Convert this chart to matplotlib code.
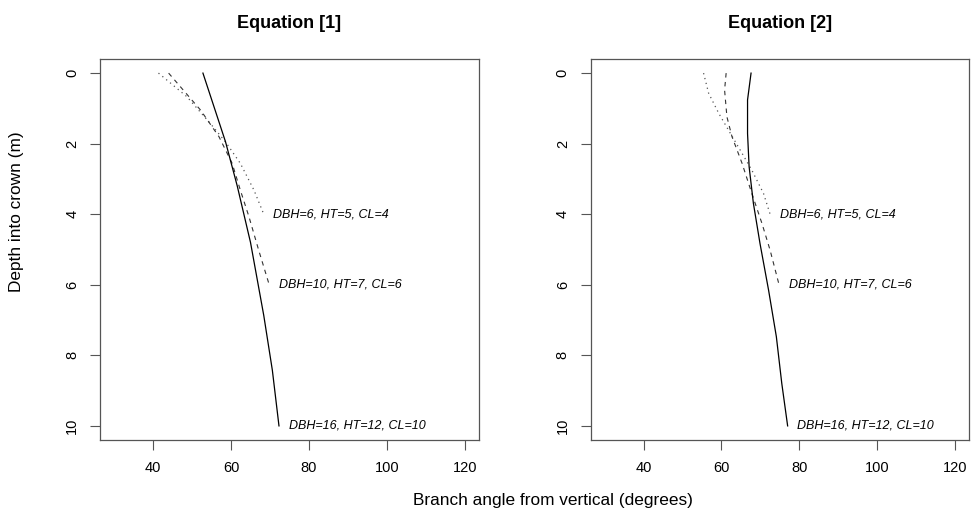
import matplotlib
matplotlib.use("Agg")
import matplotlib.pyplot as plt

plt.rcParams['font.family'] = ['Liberation Sans', 'DejaVu Sans']

# ---- data (angle in degrees, depth into crown in m) ----
eq1_small_depth = [0, 0.67, 1.43, 1.95, 2.56, 3.32, 4.0]
eq1_small_angle = [41.4, 48.7, 54.7, 58.6, 62.4, 65.9, 68.4]
eq1_mid_depth = [0, 1.05, 1.8, 2.56, 3.32, 4.07, 5.02, 6.0]
eq1_mid_angle = [44.0, 52.2, 56.9, 60.3, 62.4, 64.6, 67.1, 69.8]
eq1_large_depth = [0, 1.95, 3.2, 4.8, 6.87, 8.42, 10.0]
eq1_large_angle = [52.8, 58.6, 61.6, 65.0, 68.4, 70.6, 72.3]

eq2_small_depth = [0, 0.57, 1.14, 1.71, 2.18, 2.75, 3.41, 4.0]
eq2_small_angle = [55.4, 56.7, 59.3, 62.3, 64.8, 67.8, 70.8, 72.5]
eq2_mid_depth = [0, 0.48, 1.24, 1.8, 2.56, 3.41, 4.26, 5.02, 6.0]
eq2_mid_angle = [61.2, 60.8, 61.4, 62.7, 65.3, 67.8, 70.4, 72.5, 74.8]
eq2_large_depth = [0, 0.76, 1.71, 2.65, 3.69, 4.83, 6.15, 7.47, 8.8, 10.0]
eq2_large_angle = [67.6, 66.7, 66.7, 67.1, 68.2, 69.9, 72.1, 74.1, 75.5, 77.0]

tree_labels = ["DBH=6, HT=5, CL=4", "DBH=10, HT=7, CL=6", "DBH=16, HT=12, CL=10"]
titles = ["Equation [1]", "Equation [2]"]
x_ticks = [40, 60, 80, 100, 120]
y_ticks = [0, 2, 4, 6, 8, 10]

panels = [
    [(eq1_small_angle, eq1_small_depth), (eq1_mid_angle, eq1_mid_depth), (eq1_large_angle, eq1_large_depth)],
    [(eq2_small_angle, eq2_small_depth), (eq2_mid_angle, eq2_mid_depth), (eq2_large_angle, eq2_large_depth)],
]
styles = [dict(color='#555555', ls=(0, (1, 3)), lw=0.9),
          dict(color='#333333', ls=(0, (4, 4)), lw=0.8),
          dict(color='black', ls='-', lw=0.9)]

fig = plt.figure(figsize=(9.71, 5.16), dpi=100)
W, H = 971, 516
axes_px = [(100, 59, 479, 440), (590.7, 59, 969, 440)]

for (x0, y0, x1, y1), series, title in zip(axes_px, panels, titles):
    ax = fig.add_axes([x0 / W, 1 - y1 / H, (x1 - x0) / W, (y1 - y0) / H])
    for (ang, dep), st, lab in zip(series, styles, tree_labels):
        ax.plot(ang, dep, **st)
        ax.annotate(lab, xy=(ang[-1], dep[-1]), xytext=(7, 0), textcoords='offset points',
                    ha='left', va='center', fontsize=9, style='italic')
    xmin, xmax = 30, 120
    ax.set_xlim(xmin - 0.04 * (xmax - xmin), xmax + 0.04 * (xmax - xmin))
    ax.set_ylim(10 + 0.4, 0 - 0.4)
    ax.set_xticks(x_ticks)
    ax.set_yticks(y_ticks)
    ax.set_yticklabels([str(v) for v in y_ticks], rotation=90, va='center')
    ax.tick_params(length=7, width=0.8, color='#555555', labelsize=10.5, pad=8)
    for s in ax.spines.values():
        s.set_color('#555555')
        s.set_linewidth(0.9)
    ax.set_title(title, fontsize=13, fontweight='bold', pad=22)

fig.text(553 / W, 1 - 500 / H, "Branch angle from vertical (degrees)", ha='center', va='center', fontsize=12.4)
fig.text(17 / W, 1 - 212 / H, "Depth into crown (m)", ha='center', va='center', rotation=90, fontsize=12.4)

fig.savefig("out.png", dpi=100)
